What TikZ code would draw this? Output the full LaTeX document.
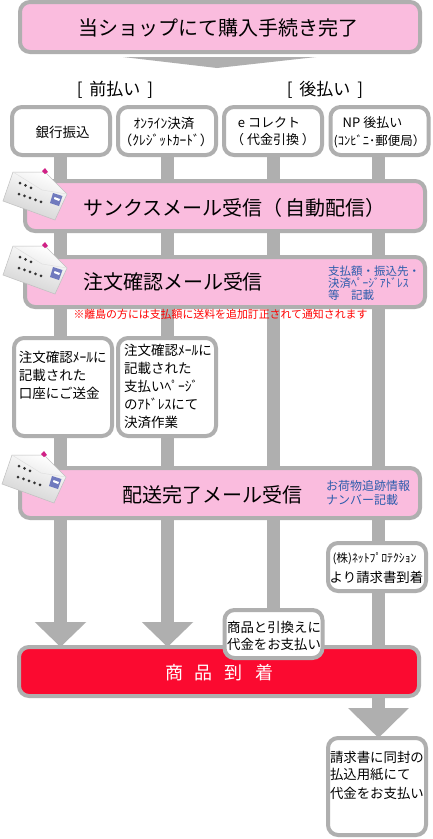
\documentclass[tikz,border=0pt]{standalone}
\usepackage{fontspec}
\setmainfont{Noto Sans CJK JP}
\usetikzlibrary{arrows.meta,backgrounds}
\definecolor{pinkfill}{RGB}{250,188,222}
\definecolor{edgegray}{RGB}{175,175,175}
\definecolor{redfill}{RGB}{251,10,48}
\definecolor{noteblue}{RGB}{44,92,172}
\definecolor{stampblue}{RGB}{112,122,190}
\newcommand{\fsz}[1]{\fontsize{#1pt}{#1pt}\selectfont}
\tikzset{
  flowbox/.style={draw=edgegray,line width=4pt,rounded corners=10pt,fill=white,inner sep=0pt,outer sep=0pt},
  pinkbox/.style={flowbox,fill=pinkfill},
  redbox/.style={flowbox,fill=redfill},
  txt/.style={inner sep=0pt,outer sep=0pt,text=black},
  ltxt/.style={txt,anchor=west},
  bluetxt/.style={ltxt,text=noteblue},
  bar/.style={draw=edgegray,line width=13pt},
  arrowbar/.style={bar,-{Triangle[length=25pt,width=50pt,fill=edgegray]}},
  lastbar/.style={bar,-{Triangle[length=30pt,width=59pt,fill=edgegray]}}
}
\newcommand{\envelope}[3]{%
\begin{scope}[shift={(#1,#2)}]
  \shade[top color=white,bottom color=white!82!black,shading angle=-20]
    (13,172) -- (45,172) -- (67,194) -- (55,220) -- (3,201) -- cycle;
  \draw[white!75!black,line width=.5pt] (13,172) -- (45,172) -- (67,194) -- (55,220) -- (3,201) -- cycle;
  \draw[white!88!black,line width=.5pt] (13,172) -- (42,190) -- (67,194);
  \fill[magenta!85!black] (42,171) -- (45,168) -- (48,172) -- (45,174) -- cycle;
  \foreach \px/\py in {20,25.5,31}
    \fill[black!80] (\px,{183+(\px-20)*.45}) circle (1.5pt);
  \foreach \px in {19,24.5,30,35.5,41}
    \fill[black!80] (\px,{194+(\px-19)*.36}) circle (1.5pt);
  \fill[stampblue] (53,193) -- (62.5,196) -- (59,206) -- (50,203) -- cycle;
  \fill[white] (54.5,197) -- (60,199) -- (59,201) -- (54,199) -- cycle;
\end{scope}}
\begin{document}
\begin{tikzpicture}[x=1pt,y=-1pt]
\useasboundingbox (0,0) rectangle (432,839);

% main boxes
\node[pinkbox,minimum width=400pt,minimum height=50pt] (done) at (220,27) {};
\node[flowbox,minimum width=98pt,minimum height=48pt] (bank) at (61,131) {};
\node[flowbox,minimum width=98pt,minimum height=48pt] (online) at (167,131) {};
\node[flowbox,minimum width=98pt,minimum height=48pt] (ecol) at (273,131) {};
\node[flowbox,minimum width=98pt,minimum height=48pt] (np) at (379.5,131) {};
\node[pinkbox,minimum width=400pt,minimum height=50pt] (thanks) at (225,206) {};
\node[pinkbox,minimum width=400pt,minimum height=50pt] (order) at (225,282) {};
\node[flowbox,minimum width=98pt,minimum height=98pt] (banknote) at (63,387) {};
\node[flowbox,minimum width=98pt,minimum height=98pt] (paynote) at (167,387) {};
\node[pinkbox,minimum width=400pt,minimum height=50pt] (ship) at (220,493) {};
\node[flowbox,minimum width=98pt,minimum height=48pt] (netp) at (377,567) {};
\node[redbox,minimum width=400pt,minimum height=49pt] (arrive) at (219,671.5) {};
\node[flowbox,minimum width=98pt,minimum height=48pt] (cod) at (273.5,634) {};
\node[flowbox,minimum width=98pt,minimum height=97pt] (invoice) at (377,786.5) {};

% connectors behind the boxes
\begin{pgfonlayer}{background}
  \fill[white] (0,0) rectangle (432,839);
  \fill[edgegray] (123,57) -- (316,57) -- (217,68) -- cycle;
  \draw[bar] ([xshift=-.5pt]bank.south) -- ([xshift=-.5pt]bank.south |- banknote.north);
  \draw[arrowbar] ([xshift=-2.5pt]banknote.south) -- ([xshift=-2.5pt]banknote.south |- arrive.north);
  \draw[bar] ([xshift=.5pt]online.south) -- ([xshift=.5pt]online.south |- paynote.north);
  \draw[arrowbar] ([xshift=.5pt]paynote.south) -- ([xshift=.5pt]paynote.south |- arrive.north);
  \draw[bar] ([xshift=.5pt]ecol.south) -- ([xshift=.5pt]ecol.south |- cod.north);
  \draw[bar] ([xshift=-1pt]np.south) -- ([xshift=-1pt]np.south |- arrive.north);
  \draw[lastbar] ([xshift=1.5pt]arrive.south -| invoice.north) -- ([xshift=1.5pt]invoice.north);
\end{pgfonlayer}

% envelopes
\envelope{0}{0}{a}
\envelope{0}{74}{b}
\envelope{-1}{283}{c}

% texts
\node[txt] (t1) at (218.5,28) {\fsz{20}当ショップにて購入手続き完了};
\node[txt] (t2) at (115,90) {\fsz{17}[\hspace{7pt}前払い\hspace{7pt}]};
\node[txt] (t3) at (325,90) {\fsz{17}[\hspace{7pt}後払い\hspace{7pt}]};
\node[txt] (t4) at (62.5,132) {\fsz{13.5}銀行振込};
\node[txt] (t5) at (164,123) {\fsz{13.5}ｵﾝﾗｲﾝ決済};
\node[txt] (t6) at (166,140) {\fsz{13.5}（ｸﾚｼﾞｯﾄｶｰﾄﾞ）};
\node[txt] (t7) at (269,123) {\fsz{13}e コレクト};
\node[txt] (t8) at (273,140) {\fsz{13}（ 代金引換 ）};
\node[txt] (t9) at (372.5,123) {\fsz{13}NP 後払い};
\node[txt] (t10) at (379.5,141) {\fsz{12.5}(ｺﾝﾋﾞﾆ･郵便局）};
\node[ltxt] (t11) at (83,208) {\fsz{20}サンクスメール受信（\hspace{3pt}自動配信）};
\node[ltxt] (t12) at (83,282) {\fsz{20}注文確認メール受信};
\node[bluetxt] (t13) at (328,271) {\fsz{11.5}支払額・振込先・};
\node[bluetxt] (t14) at (328,283) {\fsz{11.5}決済ﾍﾟｰｼﾞｱﾄﾞﾚｽ};
\node[bluetxt] (t15) at (328,295) {\fsz{11.5}等　記載};
\node[txt,text=red] (t16) at (220.5,314) {\fsz{10.9}※離島の方には支払額に送料を追加訂正されて通知されます};
\node[ltxt] (t17) at (19,357) {\fsz{13.5}注文確認ﾒｰﾙに};
\node[ltxt] (t18) at (19,375) {\fsz{13.5}記載された};
\node[ltxt] (t19) at (19,393) {\fsz{13.5}口座にご送金};
\node[ltxt] (t20) at (124,350) {\fsz{13.5}注文確認ﾒｰﾙに};
\node[ltxt] (t21) at (124,368) {\fsz{13.5}記載された};
\node[ltxt] (t22) at (124,386) {\fsz{13.5}支払いﾍﾟｰｼﾞ};
\node[ltxt] (t23) at (124,404) {\fsz{13.5}のｱﾄﾞﾚｽにて};
\node[ltxt] (t24) at (124,422) {\fsz{13.5}決済作業};
\node[ltxt] (t25) at (122,495) {\fsz{20}配送完了メール受信};
\node[bluetxt] (t26) at (326,486) {\fsz{12}お荷物追跡情報};
\node[bluetxt] (t27) at (326,500) {\fsz{12}ナンバー記載};
\node[txt] (t28) at (374.5,559) {\fsz{11.7}(株)ﾈｯﾄﾌﾟﾛﾃｸｼｮﾝ};
\node[txt] (t29) at (376.5,577) {\fsz{13.4}より請求書到着};
\node[txt] (t30) at (274,627) {\fsz{13.4}商品と引換えに};
\node[txt] (t31) at (274,644) {\fsz{13.4}代金をお支払い};
\node[txt,text=white] (t32) at (219,673) {\fsz{18}商\hspace{12pt}品\hspace{12pt}到\hspace{12pt}着};
\node[ltxt] (t33) at (330,757) {\fsz{13.4}請求書に同封の};
\node[ltxt] (t34) at (330,775) {\fsz{13.4}払込用紙にて};
\node[ltxt] (t35) at (330,793) {\fsz{13.4}代金をお支払い};
\end{tikzpicture}
\end{document}
